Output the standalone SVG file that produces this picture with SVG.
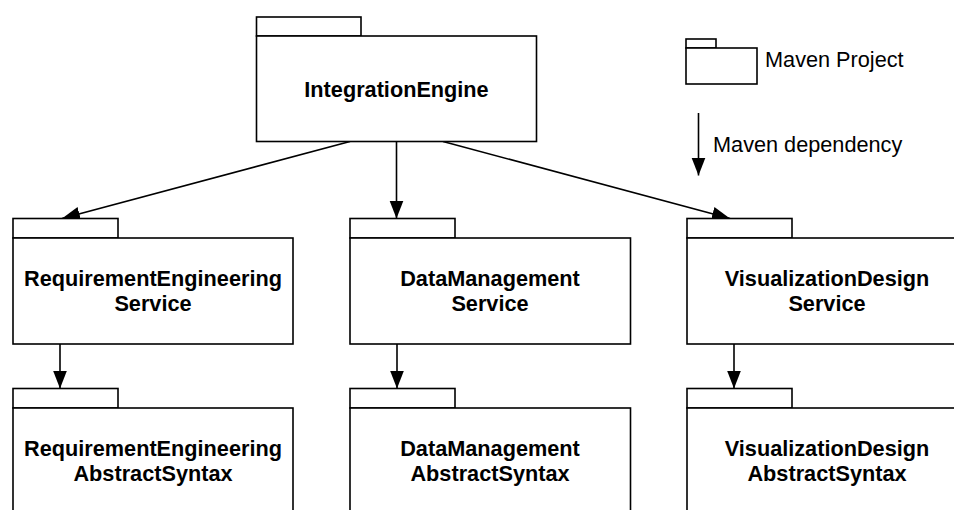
<svg xmlns="http://www.w3.org/2000/svg" width="954" height="510" viewBox="0 0 954 510">
<style>
.box{fill:#fff;stroke:#000;stroke-width:1.6}
.lbl{font-family:"Liberation Sans",Arial,Helvetica,sans-serif;font-weight:bold;font-size:21.7px;text-anchor:middle;fill:#000}
.leg{font-family:"Liberation Sans",Arial,Helvetica,sans-serif;font-size:21.7px;fill:#000}
.edge{stroke:#000;stroke-width:1.6;fill:none;marker-end:url(#arr)}
</style>
<defs>
<marker id="arr" markerUnits="userSpaceOnUse" markerWidth="20" markerHeight="16" refX="18" refY="7" orient="auto">
<path d="M0,0 L18,7 L0,14 Z" fill="#000"/>
</marker>
</defs>
<rect width="954" height="510" fill="#fff"/>
<g id="connectors">
<path class="edge" d="M350,141.5 L62,218.5"/>
<path class="edge" d="M396.5,141.5 L396.5,218.5"/>
<path class="edge" d="M443,141.5 L730,218.5"/>
<path class="edge" d="M60,344 L60,388.5"/>
<path class="edge" d="M397,344 L397,388.5"/>
<path class="edge" d="M734,344 L734,388.5"/>
<path class="edge" d="M698.5,113 L698.5,175.5"/>
</g>
<g id="IntegrationEngine">
<rect class="box" x="256.5" y="17" width="104.5" height="19"/>
<rect class="box" x="256.5" y="36" width="280" height="105.5"/>
<text class="lbl" x="396.5" y="97">IntegrationEngine</text>
</g>
<g id="RequirementEngineeringService">
<rect class="box" x="13" y="218.5" width="105" height="19.5"/>
<rect class="box" x="13" y="238" width="280" height="106"/>
<text class="lbl" x="153" y="286">RequirementEngineering</text>
<text class="lbl" x="153" y="311">Service</text>
</g>
<g id="DataManagementService">
<rect class="box" x="350" y="218.5" width="105" height="19.5"/>
<rect class="box" x="350" y="238" width="280.5" height="106"/>
<text class="lbl" x="490" y="286">DataManagement</text>
<text class="lbl" x="490" y="311">Service</text>
</g>
<g id="VisualizationDesignService">
<rect class="box" x="687" y="218.5" width="105" height="19.5"/>
<rect class="box" x="687" y="238" width="280" height="106"/>
<text class="lbl" x="827" y="286">VisualizationDesign</text>
<text class="lbl" x="827" y="311">Service</text>
</g>
<g id="RequirementEngineeringAbstractSyntax">
<rect class="box" x="13" y="388.5" width="105" height="19.5"/>
<rect class="box" x="13" y="408" width="280" height="106"/>
<text class="lbl" x="153" y="456">RequirementEngineering</text>
<text class="lbl" x="153" y="481">AbstractSyntax</text>
</g>
<g id="DataManagementAbstractSyntax">
<rect class="box" x="350" y="388.5" width="105" height="19.5"/>
<rect class="box" x="350" y="408" width="280.5" height="106"/>
<text class="lbl" x="490" y="456">DataManagement</text>
<text class="lbl" x="490" y="481">AbstractSyntax</text>
</g>
<g id="VisualizationDesignAbstractSyntax">
<rect class="box" x="687" y="388.5" width="105" height="19.5"/>
<rect class="box" x="687" y="408" width="280" height="106"/>
<text class="lbl" x="827" y="456">VisualizationDesign</text>
<text class="lbl" x="827" y="481">AbstractSyntax</text>
</g>
<g id="legend">
<rect class="box" x="686" y="39" width="30" height="9"/>
<rect class="box" x="686" y="48" width="71" height="36"/>
<text class="leg" x="765" y="67">Maven Project</text>
<text class="leg" x="713" y="152">Maven dependency</text>
</g>
</svg>
